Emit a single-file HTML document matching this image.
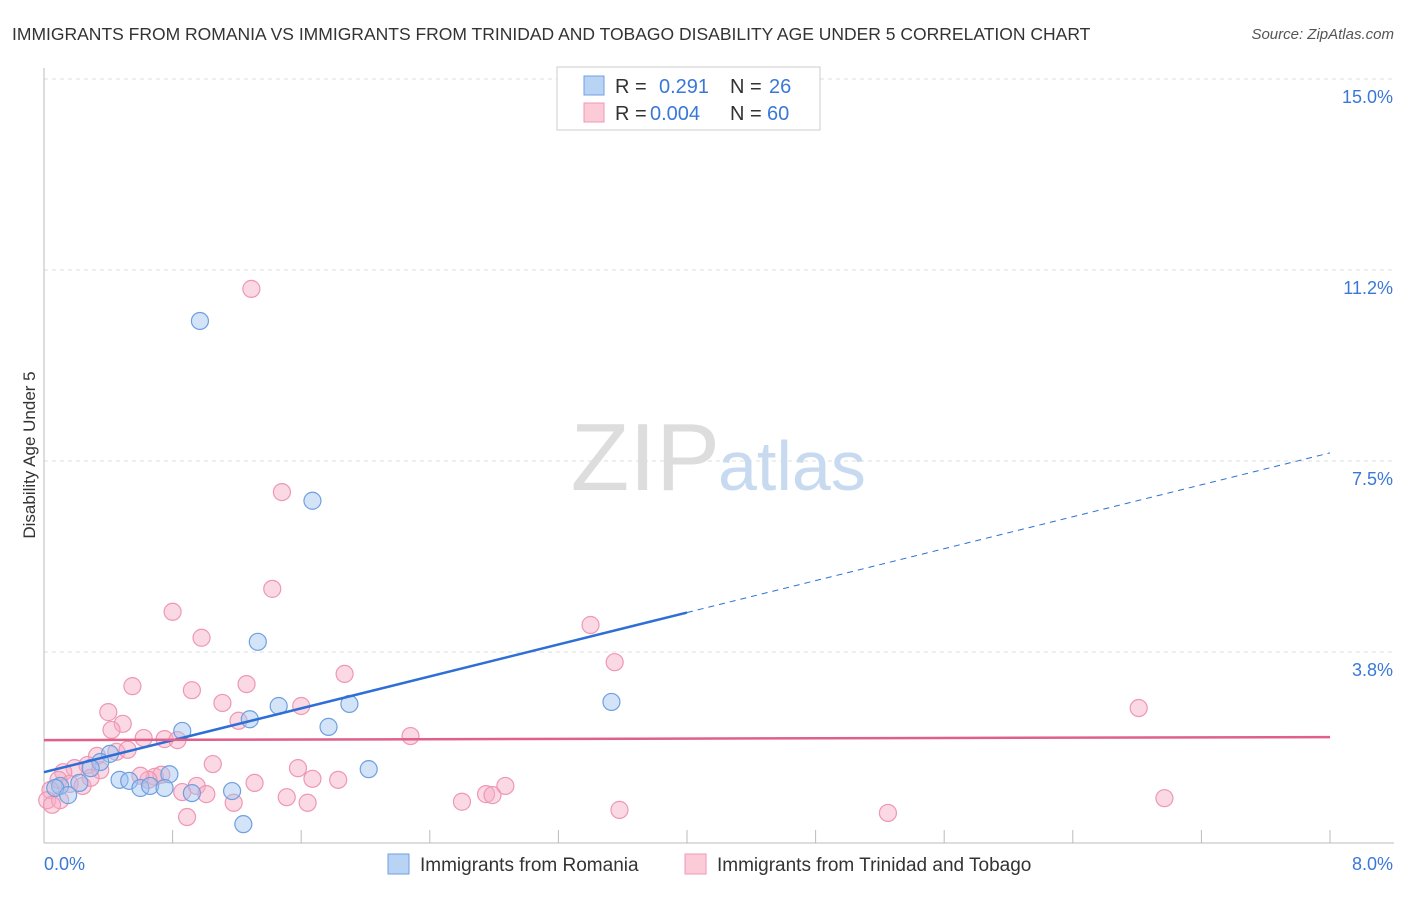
<!DOCTYPE html>
<html><head><meta charset="utf-8"><style>
body{margin:0;background:#fff;font-family:"Liberation Sans",sans-serif;}
svg text{font-family:"Liberation Sans",sans-serif;}
</style></head><body>
<svg id="chart" width="1406" height="892">
<text x="12" y="40" font-size="17.5" fill="#333">IMMIGRANTS FROM ROMANIA VS IMMIGRANTS FROM TRINIDAD AND TOBAGO DISABILITY AGE UNDER 5 CORRELATION CHART</text>
<text x="1394" y="39" font-size="15" fill="#555" font-style="italic" text-anchor="end">Source: ZipAtlas.com</text>
<text x="35" y="455" font-size="17" fill="#333" transform="rotate(-90 35 455)" text-anchor="middle">Disability Age Under 5</text>
<g id="grid"></g>
<text x="720" y="490" font-size="96" fill="#ddd" text-anchor="end" font-family="Liberation Serif">ZIP</text>
<text x="718" y="490" font-size="70" fill="#c8daf0">atlas</text>
<g id="marks"></g>
<g>
<rect x="557" y="67" width="263" height="63" fill="#fff" stroke="#ccc"/>
<rect x="584" y="76" width="20" height="19" fill="#b9d3f5" stroke="#6f9fe0"/>
<rect x="584" y="103" width="20" height="19" fill="#fbcbd8" stroke="#ef97b3"/>
<text x="615" y="93" font-size="20" fill="#333">R = </text><text x="659" y="93" font-size="20" fill="#3a78d8">0.291</text>
<text x="730" y="93" font-size="20" fill="#333">N = </text><text x="769" y="93" font-size="20" fill="#3a78d8">26</text>
<text x="615" y="120" font-size="20" fill="#333">R = </text><text x="650" y="120" font-size="20" fill="#3a78d8">0.004</text>
<text x="730" y="120" font-size="20" fill="#333">N = </text><text x="767" y="120" font-size="20" fill="#3a78d8">60</text>
</g>
<g>
<rect x="388" y="854" width="21" height="20" fill="#b9d3f5" stroke="#6f9fe0"/>
<text x="420" y="871" font-size="19" fill="#333">Immigrants from Romania</text>
<rect x="685" y="854" width="21" height="20" fill="#fbcbd8" stroke="#ef97b3"/>
<text x="717" y="871" font-size="19" fill="#333">Immigrants from Trinidad and Tobago</text>
</g>
</svg>
<script>
const blueX=[0.97,1.67,1.33,1.46,1.28,1.90,1.77,0.86,3.53,2.02,0.41,0.35,0.29,0.22,0.10,0.07,0.15,0.47,0.53,0.60,0.66,0.78,0.75,0.92,1.17,1.24];
const blueY=[10.25,6.72,3.95,2.69,2.43,2.73,2.28,2.20,2.77,1.45,1.75,1.59,1.47,1.18,1.12,1.08,0.94,1.24,1.22,1.08,1.12,1.35,1.08,0.98,1.02,0.37];
const pinkX=[1.29,1.48,1.42,0.80,0.98,1.87,3.40,3.55,0.55,0.92,1.26,0.40,1.11,1.60,0.49,0.42,1.21,2.28,0.62,0.75,0.83,6.81,0.33,0.45,0.27,0.19,0.12,0.09,0.04,0.02,0.16,0.24,0.69,0.73,0.65,0.95,1.05,1.31,1.58,1.67,1.83,0.86,1.01,1.18,1.51,1.64,2.60,2.75,2.79,2.87,0.89,3.58,5.25,6.97,0.35,0.52,0.10,0.05,0.60,0.29];
const pinkY=[10.88,6.89,4.99,4.54,4.03,3.32,4.28,3.55,3.08,3.00,3.12,2.57,2.75,2.69,2.34,2.22,2.40,2.10,2.06,2.04,2.02,2.65,1.71,1.79,1.53,1.47,1.39,1.24,1.04,0.84,1.16,1.12,1.30,1.34,1.24,1.12,1.55,1.18,1.47,1.26,1.24,1.00,0.96,0.79,0.90,0.79,0.81,0.96,0.94,1.12,0.51,0.65,0.59,0.88,1.43,1.83,0.84,0.75,1.32,1.28];
const yTicks=[15.0,11.25,7.5,3.75];
const yTickLabels=["15.0%","11.2%","7.5%","3.8%"];
const xTicks=[0,0.8,1.6,2.4,3.2,4.0,4.8,5.6,6.4,7.2,8.0];
const blueTrend=[1.39,7.66];
const pinkTrend=[2.02,2.08];
const NS='http://www.w3.org/2000/svg';
const sx=v=>44+v*160.75, sy=v=>843-v*50.93;
function mk(t,a,p){const e=document.createElementNS(NS,t);for(const k in a)e.setAttribute(k,a[k]);p.appendChild(e);return e;}
const grid=document.getElementById('grid'), marks=document.getElementById('marks');
yTicks.forEach((v,i)=>{
 let l=mk('line',{x1:44,x2:1394,y1:sy(v),y2:sy(v),stroke:'#ddd','stroke-dasharray':'4,4'},grid);
 
 
 let t=mk('text',{x:1393,y:sy(v)+24,'font-size':18,fill:'#3a78d8','text-anchor':'end'},grid);t.textContent=yTickLabels[i];
 
 
});
let ax=mk('line',{x1:44,x2:44,y1:68,y2:843,stroke:'#bbb'},grid);


let bx=mk('line',{x1:44,x2:1394,y1:843,y2:843,stroke:'#bbb'},grid);


xTicks.forEach(v=>{let l=mk('line',{x1:sx(v),x2:sx(v),y1:830,y2:843,stroke:'#bbb'},grid);
 
 });
let t0=mk('text',{x:44,y:870,'font-size':18,fill:'#3a78d8'},grid);t0.textContent='0.0%';


let t1=mk('text',{x:1393,y:870,'font-size':18,fill:'#3a78d8','text-anchor':'end'},grid);t1.textContent='8.0%';


pinkX.forEach((x,i)=>{let c=mk('circle',{cx:sx(x),cy:sy(pinkY[i]),r:8.5,fill:'rgba(246,170,195,0.45)',stroke:'#ef97b3','stroke-width':1.2},marks);
 
 });
blueX.forEach((x,i)=>{let c=mk('circle',{cx:sx(x),cy:sy(blueY[i]),r:8.5,fill:'rgba(160,195,240,0.45)',stroke:'#6f9fe0','stroke-width':1.2},marks);
 
 });
const bAt=x=>blueTrend[0]+(blueTrend[1]-blueTrend[0])*x/8;
let bl=mk('line',{x1:sx(0),y1:sy(bAt(0)),x2:sx(4),y2:sy(bAt(4)),stroke:'#2d6fd6','stroke-width':2.5},marks);


let bd=mk('line',{x1:sx(4),y1:sy(bAt(4)),x2:sx(8),y2:sy(bAt(8)),stroke:'#2d6fd6','stroke-width':1,'stroke-dasharray':'6,5'},marks);


let pl=mk('line',{x1:sx(0),y1:sy(pinkTrend[0]),x2:sx(8),y2:sy(pinkTrend[1]),stroke:'#e0608a','stroke-width':2.5},marks);


</script>
</body></html>
